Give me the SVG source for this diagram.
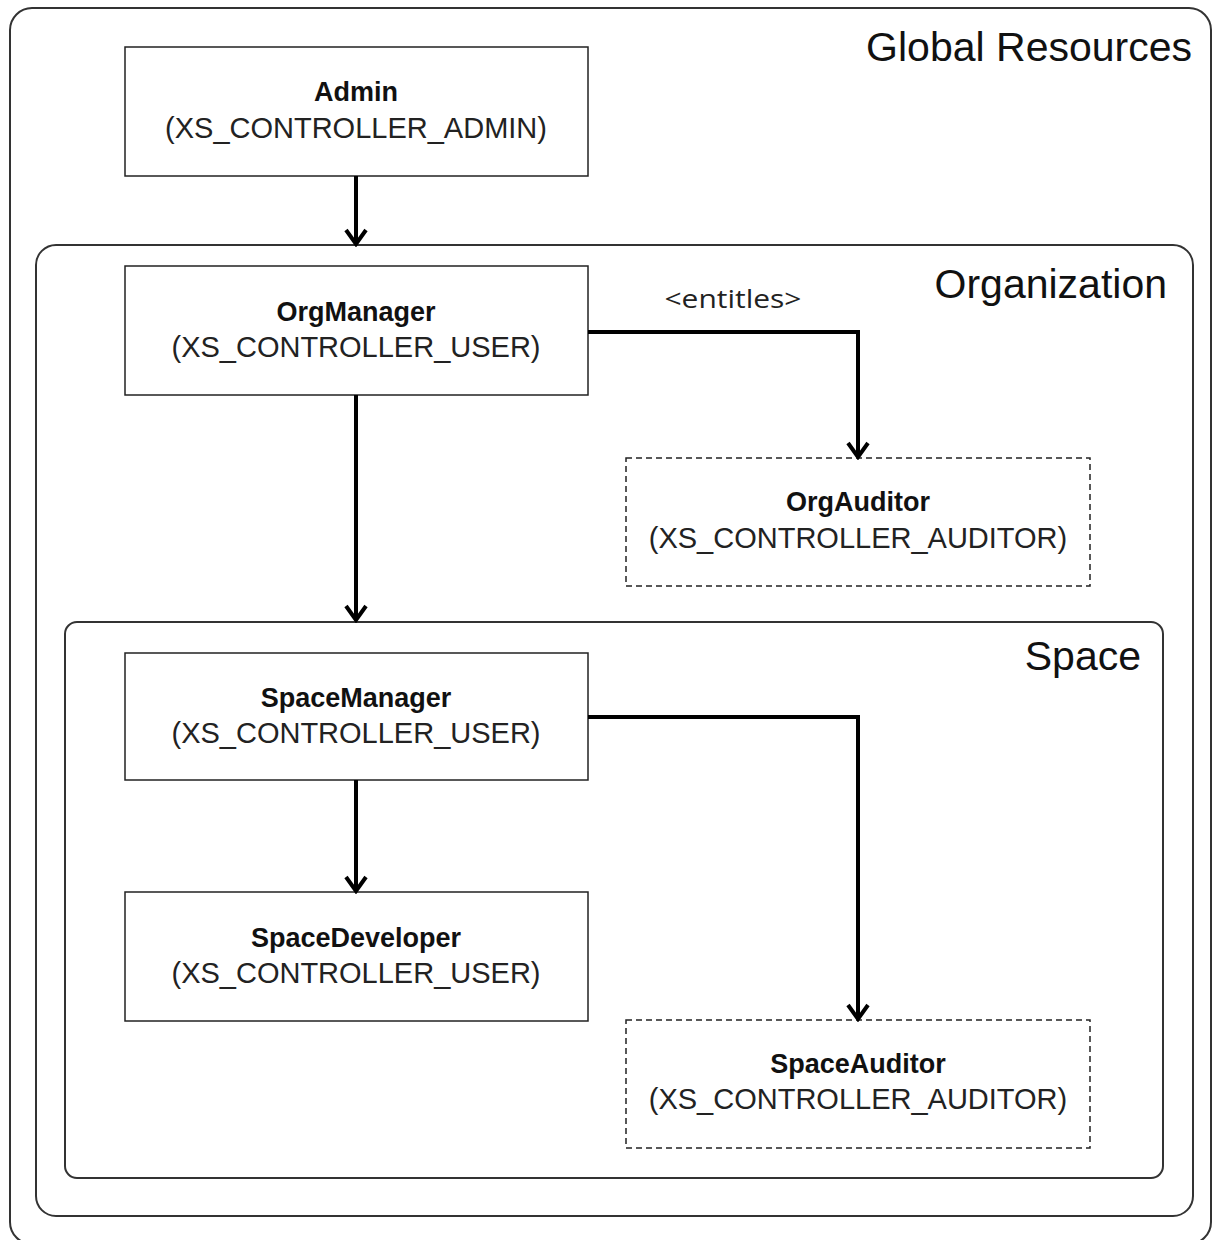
<svg xmlns="http://www.w3.org/2000/svg" width="1214" height="1240" viewBox="0 0 1214 1240">
<style>
.container{fill:none;stroke:#333;stroke-width:2}
.box{fill:#fff;stroke:#222;stroke-width:1.5}
.dash{fill:#fff;stroke:#222;stroke-width:1.5;stroke-dasharray:6 4}
.title{font-family:"Liberation Sans",Arial,sans-serif;font-size:41px;fill:#111;text-anchor:end}
.name{font-family:"Liberation Sans",Arial,sans-serif;font-size:27px;font-weight:bold;fill:#111;text-anchor:middle}
.code{font-family:"Liberation Sans",Arial,sans-serif;font-size:29px;fill:#222;text-anchor:middle}
.lbl{font-family:"Open Sans","Noto Sans",sans-serif;font-size:25px;fill:#222;text-anchor:middle}
.conn{fill:none;stroke:#000;stroke-width:4;marker-end:url(#arr)}
</style>
<defs>
<marker id="arr" viewBox="0 0 20 24" refX="17" refY="12" markerWidth="20" markerHeight="24" markerUnits="userSpaceOnUse" orient="auto">
<path d="M3,2 L17,12 L3,22" fill="none" stroke="#000" stroke-width="4"/>
</marker>
</defs>
<rect width="1214" height="1240" fill="#fff"/>
<g id="global-resources">
<rect class="container" x="10" y="8" width="1201" height="1236" rx="22"/>
<text class="title" x="1192" y="61">Global Resources</text>
</g>
<g id="organization">
<rect class="container" x="36" y="245" width="1157" height="971" rx="20"/>
<text class="title" x="1167" y="298">Organization</text>
</g>
<g id="space">
<rect class="container" x="65" y="622" width="1098" height="556" rx="12"/>
<text class="title" x="1141" y="670">Space</text>
</g>
<g id="admin">
<rect class="box" x="125" y="47" width="463" height="129"/>
<text class="name" x="356" y="101">Admin</text>
<text class="code" x="356" y="138">(XS_CONTROLLER_ADMIN)</text>
</g>
<g id="orgmanager">
<rect class="box" x="125" y="266" width="463" height="129"/>
<text class="name" x="356" y="321">OrgManager</text>
<text class="code" x="356" y="357">(XS_CONTROLLER_USER)</text>
</g>
<g id="orgauditor">
<rect class="dash" x="626" y="458" width="464" height="128"/>
<text class="name" x="858" y="511">OrgAuditor</text>
<text class="code" x="858" y="548">(XS_CONTROLLER_AUDITOR)</text>
</g>
<g id="spacemanager">
<rect class="box" x="125" y="653" width="463" height="127"/>
<text class="name" x="356" y="707">SpaceManager</text>
<text class="code" x="356" y="743">(XS_CONTROLLER_USER)</text>
</g>
<g id="spacedeveloper">
<rect class="box" x="125" y="892" width="463" height="129"/>
<text class="name" x="356" y="947">SpaceDeveloper</text>
<text class="code" x="356" y="983">(XS_CONTROLLER_USER)</text>
</g>
<g id="spaceauditor">
<rect class="dash" x="626" y="1020" width="464" height="128"/>
<text class="name" x="858" y="1073">SpaceAuditor</text>
<text class="code" x="858" y="1109">(XS_CONTROLLER_AUDITOR)</text>
</g>
<g id="connectors">
<path class="conn" d="M356,176 V244"/>
<path class="conn" d="M356,395 V620"/>
<path class="conn" d="M588,332 H858 V457"/>
<text class="lbl" x="733" y="308" textLength="137" lengthAdjust="spacingAndGlyphs">&lt;entitles&gt;</text>
<path class="conn" d="M356,780 V891"/>
<path class="conn" d="M588,717 H858 V1019"/>
</g>
</svg>
